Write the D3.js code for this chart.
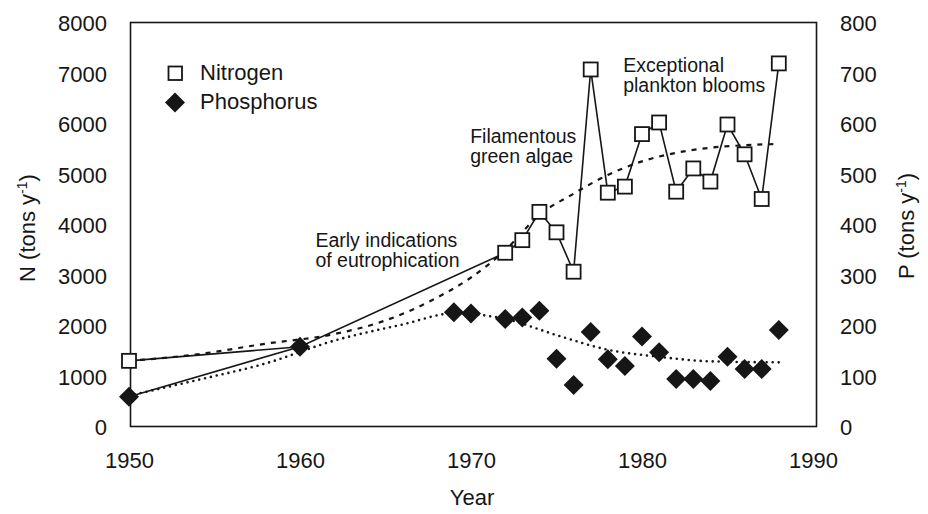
<!DOCTYPE html>
<html><head><meta charset="utf-8">
<script src="https://cdn.jsdelivr.net/npm/d3@7"></script>
<style>
body{margin:0;background:#fff}
svg{display:block}
text{font-family:"Liberation Sans",Arial,Helvetica,sans-serif;fill:#161616}
</style>
</head><body>
<svg id="chart" width="928" height="514"></svg>
<script>
// ---- data ----
const nitrogenYears  = [1950,1960,1972,1973,1974,1975,1976,1977,1978,1979,1980,1981,1982,1983,1984,1985,1986,1987,1988];
const nitrogenValues = [1310,1590,3450,3700,4260,3855,3075,7080,4640,4760,5800,6030,4660,5120,4860,5990,5400,4515,7200];
const nitrogenHiddenMarkerYears = [1960];

const phosphorusYears  = [1950,1960,1969,1970,1972,1973,1974,1975,1976,1977,1978,1979,1980,1981,1982,1983,1984,1985,1986,1987,1988];
const phosphorusValues = [60,159,227,225,214,217,230,135,83,188,134,121,179,148,95,95,91,139,115,115,192];
const phosphorusLinkedYears = [1950,1960];

const nitrogenTrendYears  = [1950,1954,1958,1962,1965,1968,1970,1972,1974,1976,1978,1980,1982,1984,1986,1988];
const nitrogenTrendValues = [1310,1440,1650,1840,2110,2560,2960,3500,4200,4620,4990,5260,5430,5530,5580,5605];

const phosphorusTrendYears  = [1950,1954,1958,1962,1966,1969,1972,1975,1978,1981,1984,1988];
const phosphorusTrendValues = [62,93,126,171,203,225,214,182,153,139,130,128];

const nTicks = [0,1000,2000,3000,4000,5000,6000,7000,8000];
const pTicks = [0,100,200,300,400,500,600,700,800];
const yearTicks = [1950,1960,1970,1980,1990];

const legendLabels = ["Nitrogen","Phosphorus"];
const annotationTexts = [
  ["Early indications","of eutrophication"],
  ["Filamentous","green algae"],
  ["Exceptional","plankton blooms"]
];
const annotationAnchorYears = [1960.9, 1969.95, 1978.9];
const annotationAnchorN = [3558, 5618, 7036];

// ---- layout ----
const svg = d3.select("#chart");
const x = d3.scaleLinear().domain([1950,1990]).range([129,813]);
const yN = d3.scaleLinear().domain([0,8000]).range([427,23]);
const yP = d3.scaleLinear().domain([0,800]).range([427,23]);
const ink = "#161616";

const nData = nitrogenYears.map((yr,i)=>({year:yr,value:nitrogenValues[i]}));
const pData = phosphorusYears.map((yr,i)=>({year:yr,value:phosphorusValues[i]}));
const nTrend = nitrogenTrendYears.map((yr,i)=>({year:yr,value:nitrogenTrendValues[i]}));
const pTrend = phosphorusTrendYears.map((yr,i)=>({year:yr,value:phosphorusTrendValues[i]}));

// frame
svg.append("rect").attr("x",130.5).attr("y",22.5).attr("width",686).attr("height",404)
  .attr("fill","none").attr("stroke",ink).attr("stroke-width",1.6);

// axes (labels only, no tick marks)
const leftAxis = d3.axisLeft(yN).tickValues(nTicks).tickSize(0).tickPadding(0).tickFormat(d3.format("d"));
const gL = svg.append("g").attr("transform","translate(107,0)").call(leftAxis);
const rightAxis = d3.axisRight(yP).tickValues(pTicks).tickSize(0).tickPadding(0).tickFormat(d3.format("d"));
const gR = svg.append("g").attr("transform","translate(840,0)").call(rightAxis);
const bottomAxis = d3.axisBottom(x).tickValues(yearTicks).tickSize(0).tickPadding(0).tickFormat(d3.format("d"));
const gB = svg.append("g").attr("transform","translate(0,452)").call(bottomAxis);
[gL,gR,gB].forEach(g=>{
  g.select(".domain").remove();
  g.selectAll("text").attr("font-size",22).attr("font-family",null).attr("fill",ink);
  g.attr("font-family",null).attr("font-size",null);
});
gL.selectAll("text").attr("dy","0.36em");
gR.selectAll("text").attr("dy","0.36em");
gB.selectAll("text").attr("dy","0.72em");

// axis titles
svg.append("text").attr("x",472).attr("y",505).attr("text-anchor","middle").attr("font-size",22).text("Year");
const tN = svg.append("text").attr("transform","translate(35,228) rotate(-90)").attr("text-anchor","middle").attr("font-size",22);
tN.append("tspan").text("N (tons y");
tN.append("tspan").attr("dy",-8).attr("font-size",14).text("-1");
tN.append("tspan").attr("dy",8).text(")");
const tP = svg.append("text").attr("transform","translate(914,226) rotate(-90)").attr("text-anchor","middle").attr("font-size",22);
tP.append("tspan").text("P (tons y");
tP.append("tspan").attr("dy",-8).attr("font-size",14).text("-1");
tP.append("tspan").attr("dy",8).text(")");

// trend lines
svg.append("path").datum(nTrend)
  .attr("d",d3.line().x(d=>x(d.year)).y(d=>yN(d.value)).curve(d3.curveMonotoneX))
  .attr("fill","none").attr("stroke",ink).attr("stroke-width",2.2).attr("stroke-dasharray","5 6");
svg.append("path").datum(pTrend)
  .attr("d",d3.line().x(d=>x(d.year)).y(d=>yP(d.value)).curve(d3.curveMonotoneX))
  .attr("fill","none").attr("stroke",ink).attr("stroke-width",2.6).attr("stroke-linecap","round").attr("stroke-dasharray","0 6");

// solid lines
svg.append("path").datum(nData)
  .attr("d",d3.line().x(d=>x(d.year)).y(d=>yN(d.value)))
  .attr("fill","none").attr("stroke",ink).attr("stroke-width",1.6);
svg.append("path").datum(pData.filter(d=>phosphorusLinkedYears.includes(d.year)))
  .attr("d",d3.line().x(d=>x(d.year)).y(d=>yP(d.value)))
  .attr("fill","none").attr("stroke",ink).attr("stroke-width",1.6);

// markers
const diamond = "M0,-10L10,0L0,10L-10,0Z";
svg.append("g").selectAll("rect").data(nData.filter(d=>!nitrogenHiddenMarkerYears.includes(d.year))).join("rect")
  .attr("x",d=>x(d.year)-7).attr("y",d=>yN(d.value)-7).attr("width",14).attr("height",14)
  .attr("fill","#fff").attr("stroke",ink).attr("stroke-width",1.8);
svg.append("g").selectAll("path").data(pData).join("path")
  .attr("transform",d=>`translate(${x(d.year)},${yP(d.value)})`).attr("d",diamond).attr("fill",ink);

// legend
const lg = svg.append("g");
lg.append("rect").attr("x",168.5).attr("y",66.5).attr("width",13.5).attr("height",13.5)
  .attr("fill","#fff").attr("stroke",ink).attr("stroke-width",1.8);
lg.append("path").attr("transform","translate(175,102.5)").attr("d",diamond).attr("fill",ink);
lg.selectAll("text").data(legendLabels).join("text")
  .attr("x",200).attr("y",(d,i)=>80+i*28.5).attr("font-size",22).text(d=>d);

// annotations
annotationTexts.forEach((lines,i)=>{
  const t = svg.append("text").attr("x",x(annotationAnchorYears[i])).attr("y",yN(annotationAnchorN[i])).attr("font-size",19.5);
  lines.forEach((ln,j)=>t.append("tspan").attr("x",x(annotationAnchorYears[i])).attr("dy",j===0?0:20).text(ln));
});
</script>
</body></html>
